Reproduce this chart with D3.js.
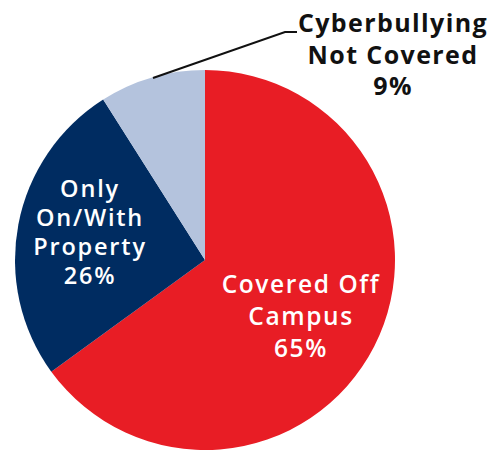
<!DOCTYPE html>
<html>
<head>
<meta charset="utf-8">
<script src="https://cdn.jsdelivr.net/npm/d3@7"></script>
<style>
  html, body { margin: 0; padding: 0; background: #fff; }
  svg text { font-family: "Open Sans", "DejaVu Sans", sans-serif; }
</style>
</head>
<body>
<svg id="chart" width="490" height="452"></svg>
<script>
// Scope of school cyberbullying policies
const categories = ["Covered Off Campus", "Only On/With Property", "Cyberbullying Not Covered"];
const values = [65, 26, 9];
const colors = ["#e81d25", "#002c61", "#b4c3dd"];
const labelLines = [
  ["Covered Off", "Campus", "65%"],
  ["Only", "On/With", "Property", "26%"],
  ["Cyberbullying", "Not Covered", "9%"]
];

const cx = 205, cy = 260, radius = 190;

const svg = d3.select("#chart");
const g = svg.append("g").attr("transform", `translate(${cx},${cy})`);

const data = categories.map((c, i) => ({ name: c, value: values[i], color: colors[i], lines: labelLines[i] }));

const pie = d3.pie().sort(null).value(d => d.value);
const arc = d3.arc().innerRadius(0).outerRadius(radius);
const arcs = pie(data);

g.selectAll("path.slice")
  .data(arcs)
  .join("path")
  .attr("class", "slice")
  .attr("d", arc)
  .attr("fill", d => d.data.color);

// White labels inside the two large slices
const inside = [
  { idx: 0, x: 301, y: 293, lh: 32, size: 24.5, ls: 1.6 },
  { idx: 1, x: 90, y: 197, lh: 29, size: 23.5, ls: 1.8 }
];
inside.forEach(o => {
  const t = svg.append("text")
    .attr("text-anchor", "middle")
    .attr("fill", "#fff")
    .attr("font-size", o.size)
    .attr("font-weight", 600)
    .attr("letter-spacing", o.ls);
  arcs[o.idx].data.lines.forEach((ln, i) => {
    t.append("tspan").attr("x", o.x).attr("y", o.y + i * o.lh).text(ln);
  });
});

// Leader line and dark label for the small slice
svg.append("polyline")
  .attr("points", [[153, 78], [285, 32], [297, 32]].map(p => p.join(",")).join(" "))
  .attr("fill", "none")
  .attr("stroke", "#111")
  .attr("stroke-width", 2);

const t2 = svg.append("text")
  .attr("text-anchor", "middle")
  .attr("fill", "#111")
  .attr("font-size", 25)
  .attr("font-weight", 700)
  .attr("letter-spacing", 1.4);
arcs[2].data.lines.forEach((ln, i) => {
  t2.append("tspan").attr("x", 393).attr("y", 32 + i * 31.5).text(ln);
});
</script>
</body>
</html>
